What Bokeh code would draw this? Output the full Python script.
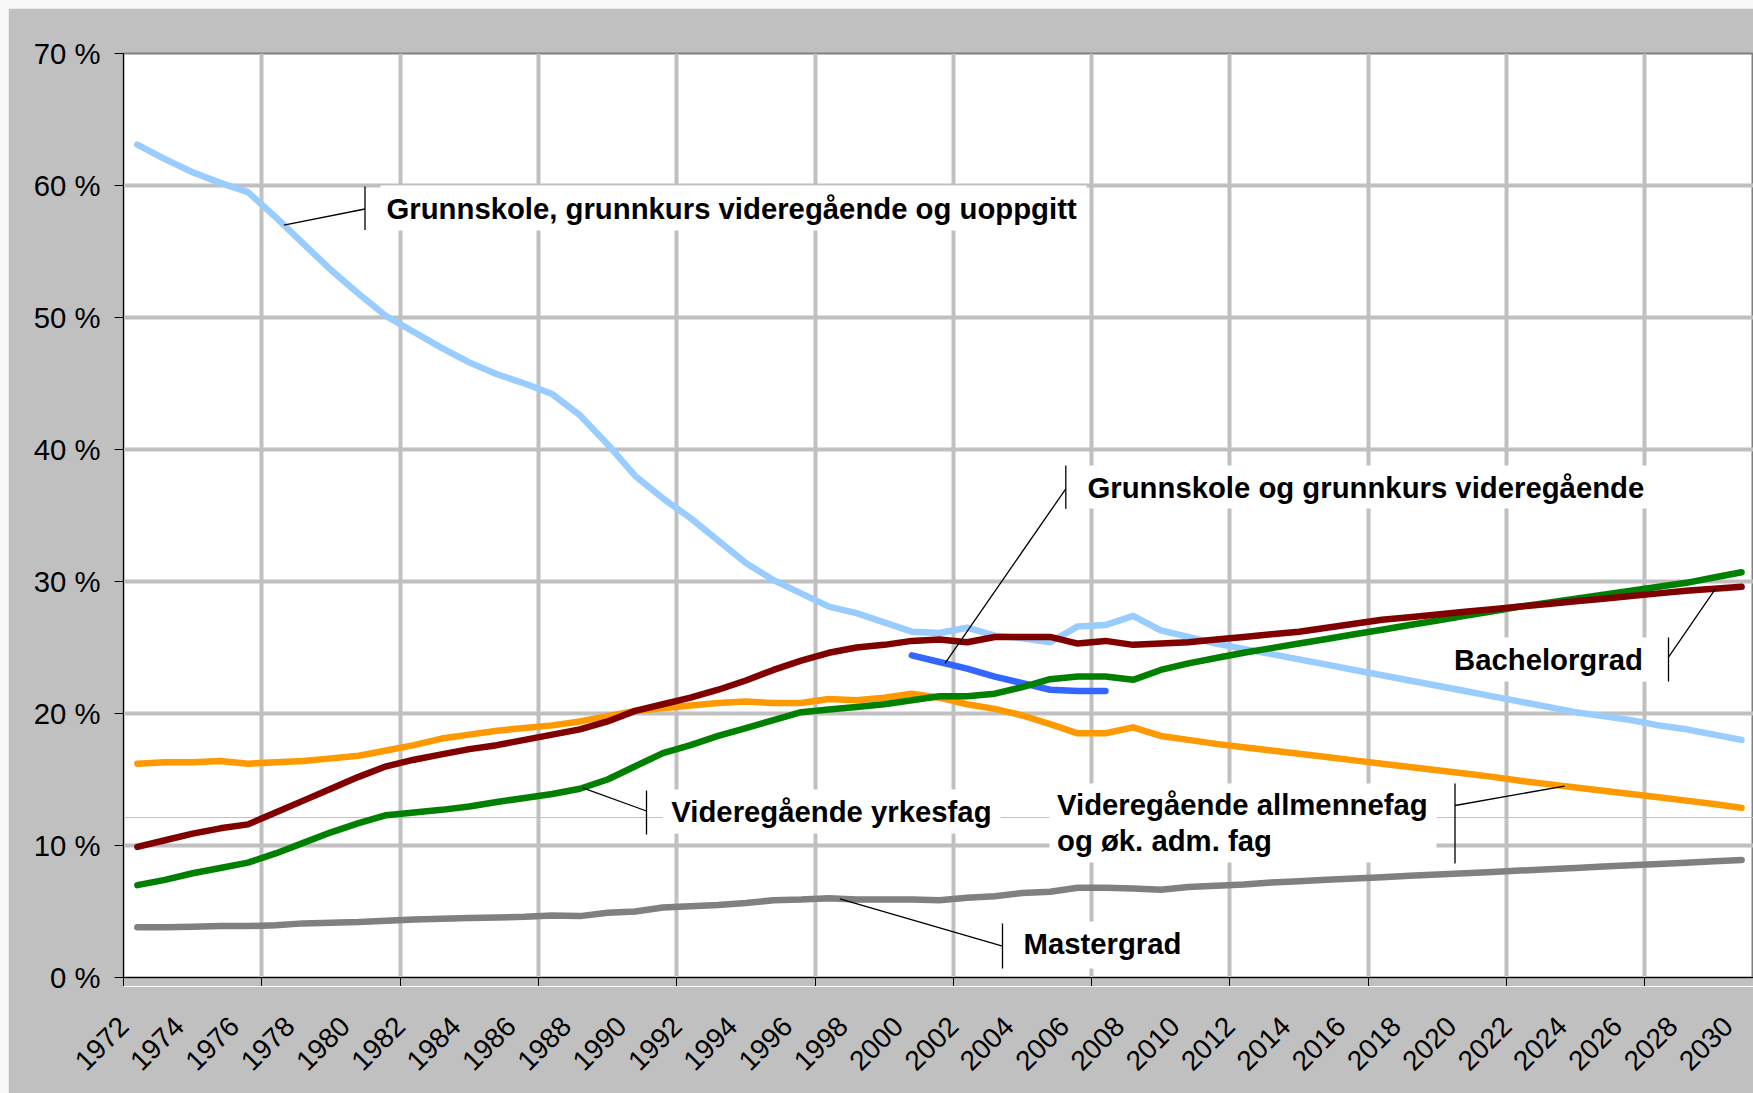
import math
import numpy as np
from bokeh.plotting import figure
from bokeh.models import (FixedTicker, PrintfTickFormatter, Label, BoxAnnotation,
                          Span, Range1d, LinearAxis, CustomJSTickFormatter)
from bokeh.embed import file_html
from bokeh.resources import INLINE

# ---------------- data ----------------
years = list(range(1972, 2031))

grunnskole_uoppgitt = [63.1, 62.0, 61.0, 60.2, 59.5, 57.6, 55.6, 53.6, 51.8, 50.1,
                       48.9, 47.7, 46.6, 45.7, 45.0, 44.2, 42.6, 40.4, 38.0, 36.3,
                       34.8, 33.1, 31.4, 30.1, 29.1, 28.1, 27.6, 26.9, 26.2, 26.1,
                       26.5, 25.9, 25.7, 25.4, 26.6, 26.7, 27.4, 26.3, 25.8, 25.3,
                       24.9, 24.5, 24.1, 23.7, 23.3, 22.9, 22.5, 22.1, 21.7, 21.3,
                       20.9, 20.5, 20.1, 19.8, 19.5, 19.1, 18.8, 18.4, 18.0]

years_grunnkurs = [2000, 2001, 2002, 2003, 2004, 2005, 2006, 2007]
grunnskole_grunnkurs = [24.4, 23.9, 23.4, 22.8, 22.3, 21.8, 21.7, 21.7]

yrkesfag = [7.0, 7.4, 7.9, 8.3, 8.7, 9.4, 10.2, 11.0, 11.7, 12.3,
            12.5, 12.7, 12.95, 13.3, 13.6, 13.9, 14.3, 15.0, 16.0, 17.0,
            17.6, 18.3, 18.9, 19.5, 20.1, 20.3, 20.5, 20.7, 21.0, 21.3,
            21.3, 21.5, 22.0, 22.6, 22.8, 22.8, 22.55, 23.3, 23.8, 24.2,
            24.6, 24.95, 25.3, 25.65, 26.0, 26.35, 26.7, 27.05, 27.4, 27.75,
            28.1, 28.4, 28.7, 29.0, 29.3, 29.6, 29.9, 30.3, 30.7]

allmennfag = [16.2, 16.3, 16.3, 16.4, 16.2, 16.3, 16.4, 16.6, 16.8, 17.2,
              17.6, 18.1, 18.4, 18.7, 18.9, 19.1, 19.4, 19.8, 20.2, 20.4,
              20.6, 20.8, 20.9, 20.8, 20.8, 21.1, 21.0, 21.2, 21.5, 21.2,
              20.7, 20.35, 19.85, 19.2, 18.5, 18.5, 18.95, 18.3, 18.0, 17.7,
              17.45, 17.2, 16.95, 16.7, 16.45, 16.2, 15.95, 15.7, 15.45, 15.2,
              14.9, 14.65, 14.4, 14.15, 13.9, 13.65, 13.4, 13.15, 12.85]

bachelorgrad = [9.9, 10.4, 10.9, 11.3, 11.6, 12.5, 13.4, 14.3, 15.2, 16.0,
                16.5, 16.9, 17.3, 17.6, 18.0, 18.4, 18.8, 19.4, 20.2, 20.7,
                21.2, 21.8, 22.5, 23.3, 24.0, 24.6, 25.0, 25.2, 25.5, 25.6,
                25.4, 25.8, 25.8, 25.8, 25.3, 25.5, 25.2, 25.3, 25.4, 25.6,
                25.8, 26.0, 26.2, 26.5, 26.8, 27.1, 27.3, 27.5, 27.7, 27.9,
                28.1, 28.3, 28.5, 28.7, 28.9, 29.1, 29.3, 29.45, 29.6]

mastergrad = [3.8, 3.8, 3.85, 3.9, 3.9, 3.95, 4.1, 4.15, 4.2, 4.3,
              4.4, 4.45, 4.5, 4.55, 4.6, 4.7, 4.65, 4.9, 5.0, 5.3,
              5.4, 5.5, 5.65, 5.85, 5.9, 6.0, 5.9, 5.9, 5.9, 5.85,
              6.05, 6.15, 6.4, 6.5, 6.8, 6.8, 6.75, 6.65, 6.85, 6.95,
              7.05, 7.2, 7.3, 7.4, 7.5, 7.6, 7.7, 7.8, 7.9, 8.0,
              8.1, 8.2, 8.3, 8.4, 8.5, 8.6, 8.7, 8.8, 8.9]

y_ticks = [0, 10, 20, 30, 40, 50, 60, 70]
x_label_years = list(range(1972, 2031, 2))

# ---------------- layout ----------------
PAGE_OFF = 8                        # figure offset on the page (css padding)
W, H = 1745, 1085
FL, FT, FB = 115, 45, 969          # frame left / top / bottom (figure px)
PPY = 27.66                         # px per year
X0 = 1971.5
PPP = (FB - FT) / 70.0              # px per percent
x_end = X0 + (W - FL) / PPY
LABEL_SHIFT = 0.49                  # year labels sit a bit left of category centre

def xd(px):   # page px -> data x
    return X0 + (px - PAGE_OFF - FL) / PPY

def yd(py):   # page px -> data y
    return (PAGE_OFF + FB - py) / PPP

FONT = "Liberation Sans"
FS = "29.3px"

p = figure(width=W, height=H, x_range=Range1d(X0, x_end), y_range=Range1d(0, 70),
           output_backend="svg", toolbar_location=None,
           min_border_left=FL, min_border_top=FT, min_border_right=0,
           min_border_bottom=H - FB)

p.background_fill_color = "white"
p.border_fill_color = "#C0C0C0"
p.outline_line_color = "#808080"
p.outline_line_width = 2

# x axis 1: tick marks at 5-year boundaries, no labels (also drives the grid)
boundaries = [X0 + 5 * k for k in range(12)]
ax1 = p.xaxis[0]
ax1.ticker = FixedTicker(ticks=[], minor_ticks=boundaries)
ax1.major_tick_out = 20
ax1.major_tick_in = 0
ax1.major_tick_line_color = None
ax1.minor_tick_out = 9
ax1.minor_tick_in = 0
ax1.minor_tick_line_color = "black"
ax1.major_label_text_color = None
ax1.axis_line_color = "black"

p.xgrid.grid_line_color = None
p.xgrid.minor_grid_line_color = "#C0C0C0"
p.xgrid.minor_grid_line_width = 4

# x axis 2: year labels, its (white) axis line is the separator below the plot
ax2 = LinearAxis(ticker=FixedTicker(ticks=[y - LABEL_SHIFT for y in x_label_years]),
                 formatter=CustomJSTickFormatter(
                     code="return String(Math.round(tick + %s))" % LABEL_SHIFT))
ax2.major_tick_out = 0
ax2.major_tick_in = 0
ax2.major_tick_line_color = None
ax2.minor_tick_line_color = None
ax2.axis_line_color = "white"
ax2.axis_line_width = 1
ax2.major_label_orientation = math.pi / 4
ax2.major_label_text_font = FONT
ax2.major_label_text_font_size = "28px"
ax2.major_label_text_color = "black"
ax2.major_label_standoff = 35
p.add_layout(ax2, "below")

# y axis
p.yaxis.ticker = FixedTicker(ticks=y_ticks)
p.ygrid.grid_line_color = "#C0C0C0"
p.ygrid.grid_line_width = 4
p.yaxis.formatter = PrintfTickFormatter(format="%d %%")
p.yaxis.major_label_text_font = FONT
p.yaxis.major_label_text_font_size = FS
p.yaxis.major_label_text_color = "black"
p.yaxis.major_tick_out = 9
p.yaxis.major_tick_in = 0
p.yaxis.major_tick_line_color = "black"
p.yaxis.minor_tick_line_color = None
p.yaxis.axis_line_color = "black"
p.yaxis.major_label_standoff = 14

# thin reference line
p.add_layout(Span(location=yd(817), dimension="width", line_color="#C0C0C0",
                  line_width=1, level="underlay"))

# ---------------- series ----------------
series = [
    (years, grunnskole_uoppgitt, "#99CCFF"),
    (years_grunnkurs, grunnskole_grunnkurs, "#3366FF"),
    (years, allmennfag, "#FF9900"),
    (years, yrkesfag, "#008000"),
    (years, bachelorgrad, "#800000"),
    (years, mastergrad, "#808080"),
]
for xs, ys, c in series:
    p.line(xs, ys, line_color=c, line_width=6.5, line_cap="round", line_join="round")

# ---------------- data labels ----------------
def on_series(xs, ys, yr):
    return float(np.interp(yr, xs, ys))

labels = [
    # text lines, text-left px, line centres px, box (l, r, t, b) px, bar x px, bar (t, b) px,
    # bar anchor y px, (series xs, ys, year for leader end)
    (["Grunnskole, grunnkurs videregående og uoppgitt"], 386, [207.5], (380, 1086, 185, 230),
     364.5, (186, 229.5), 208.5, (years, grunnskole_uoppgitt, 1977.3)),
    (["Grunnskole og grunnkurs videregående"], 1087, [486.5], (1077, 1656, 465, 508),
     1065.3, (465, 508.3), 488.3, (years_grunnkurs, grunnskole_grunnkurs, 2001.2)),
    (["Bachelorgrad"], 1453.5, [659], (1444, 1652, 637, 681),
     1668, (637, 681), 656.7, (years, bachelorgrad, 2029.06)),
    (["Videregående yrkesfag"], 670.8, [810.6], (662, 1000, 789, 833),
     646, (790, 834), 810.5, (years, yrkesfag, 1988.1)),
    (["Videregående allmennefag", "og øk. adm. fag"], 1056.5, [804, 839.6], (1049, 1436, 783, 862),
     1454.5, (783, 863), 805, (years, allmennfag, 2023.6)),
    (["Mastergrad"], 1023, [942.6], (1015, 1189, 921, 968),
     1002, (923, 968), 945.7, (years, mastergrad, 1997.4)),
]

bx0, by0, bx1, by1 = [], [], [], []
for lines, tx, tys, box, barx, bar, bary, (sx, sy, syr) in labels:
    bx0.append(xd(barx)); by0.append(yd(bar[0])); bx1.append(xd(barx)); by1.append(yd(bar[1]))
    bx0.append(xd(barx)); by0.append(yd(bary)); bx1.append(syr); by1.append(on_series(sx, sy, syr))
p.segment(bx0, by0, bx1, by1, line_color="black", line_width=1.3)

for lines, tx, tys, box, barx, bar, bary, _ in labels:
    l, r, t, b = box
    p.add_layout(BoxAnnotation(left=xd(l), right=xd(r), top=yd(t), bottom=yd(b),
                               fill_color="white", fill_alpha=1, line_color=None))
for lines, tx, tys, box, barx, bar, bary, _ in labels:
    for txt, ty in zip(lines, tys):
        p.add_layout(Label(x=xd(tx), y=yd(ty), text=txt, text_font=FONT,
                           text_font_size=FS, text_font_style="bold",
                           text_color="black", text_align="left",
                           text_baseline="middle"))

html = file_html(p, INLINE)
html = html.replace(
    "</head>",
    "<style>html,body{background:#f8f8f8 !important;}"
    "body{padding:%dpx 0 0 %dpx !important;}</style></head>" % (PAGE_OFF, PAGE_OFF), 1)
open("out.html", "w").write(html)
